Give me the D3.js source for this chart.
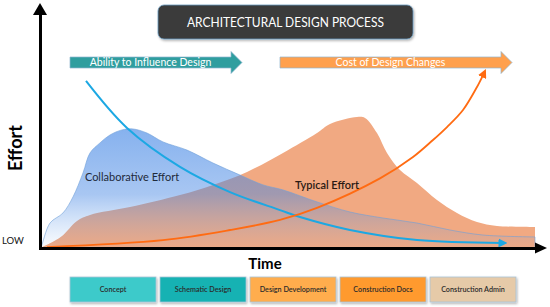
<!DOCTYPE html>
<html>
<head>
<meta charset="utf-8">
<script src="https://cdn.jsdelivr.net/npm/d3@7"></script>
<style>
  body { margin: 0; background: #fff; }
  #graphicContainer { width: 550px; height: 307px; }
  text { font-family: Lato, "Open Sans", sans-serif; }
</style>
</head>
<body>
<div id="graphicContainer"></div>
<script>

// effort curves, time 0-100 vs effort 0-100

var collaborative = [[0, 0], [0.2, 0.4], [2, 10.4], [4.6, 14.6], [6.6, 21.3], [8.6, 31.3], [10, 39.6], [12, 43.8],
	[14, 47.1], [16.4, 49.2], [18.6, 49.6], [21.4, 47.9], [24.6, 44.2], [29.4, 40.8], [34.6, 35.4],
	[40, 30.4], [44.6, 26.3], [48.6, 24.2], [55.4, 19.2], [62, 15], [68.6, 12.5], [75.4, 10.4],
	[82, 7.5], [88.6, 5.4], [99, 4.6]];

var typical = [[0, 0], [2, 2], [4.4, 5], [7.4, 11.3], [10, 13.8], [18, 17.1], [28, 22.1], [34.6, 26.3],
	[41.4, 31.7], [48.6, 39.6], [55.4, 47.9], [58, 51.7], [63.4, 54.6], [65, 54.2], [67.4, 47.9],
	[69.4, 39.6], [72, 32.5], [75.4, 27.1], [79.4, 20], [83.4, 14.6], [87.4, 10.8], [91.4, 9.2], [99, 8.75]];

var influence = [[9.2, 69.6], [17.4, 50], [28, 33.8], [38, 23.3], [48, 15.8], [52, 12.9], [62, 7.5],
	[75.4, 3.3], [92.6, 2.1]];

var cost = [[1.4, 0.4], [24.6, 3.3], [38, 7.5], [48, 11.7], [55.4, 16.7], [68, 29], [74.6, 37.9],
	[78.6, 45], [81.4, 50.4], [84.6, 57.5], [87.4, 67.1], [88.8, 72.9]];

var banners = [
	{label: "Ability to Influence Design", from: 6, to: 40.4, fill: "#2f9e9f"},
	{label: "Cost of Design Changes", from: 48, to: 94.4, fill: "#ffa04d"}
];

var phases = ["Concept", "Schematic Design", "Design Development", "Construction Docs", "Construction Admin"];
var phase_colours = ["#3ccaca", "#13b2b3", "#ffad4d", "#ff9a2e", "#e6caa8"];

function draw_chart() {

		d3.select("#graphicContainer svg").remove();

		var width = 550, height = 307;

		var svg = d3.select("#graphicContainer").append("svg")
			.attr("width", width)
			.attr("height", height);

		var defs = svg.append("defs");

		var grad = defs.append("linearGradient")
			.attr("id", "blueFade")
			.attr("x1", 0).attr("y1", 0).attr("x2", 0).attr("y2", 1);
		grad.append("stop").attr("offset", "0%").attr("stop-color", "rgb(60,130,228)").attr("stop-opacity", 0.62);
		grad.append("stop").attr("offset", "55%").attr("stop-color", "rgb(70,135,228)").attr("stop-opacity", 0.47);
		grad.append("stop").attr("offset", "100%").attr("stop-color", "rgb(120,170,235)").attr("stop-opacity", 0.04);

		var shadow = defs.append("filter").attr("id", "shadow")
			.attr("x", "-10%").attr("y", "-20%").attr("width", "130%").attr("height", "160%");
		shadow.append("feDropShadow").attr("dx", 1).attr("dy", 1.5).attr("stdDeviation", 1)
			.attr("flood-color", "#000").attr("flood-opacity", 0.3);

		function marker(id, colour, size) {
			defs.append("marker")
				.attr("id", id)
				.attr("viewBox", "0 0 10 10")
				.attr("refX", 5).attr("refY", 5)
				.attr("markerUnits", "userSpaceOnUse")
				.attr("markerWidth", size).attr("markerHeight", size)
				.attr("orient", "auto")
				.append("path")
				.attr("d", "M0,0L10,5L0,10Z")
				.attr("fill", colour);
		}
		marker("blueHead", "#1ca8e3", 9);
		marker("orangeHead", "#ff6b12", 9);

		// scales

		var x = d3.scaleLinear()
			.domain([0, 100])
			.range([40, 540]);

		var y = d3.scaleLinear()
			.domain([0, 100])
			.range([248, 8]);

		// title box

		var title = svg.append("g");
		title.append("rect")
			.attr("x", 158).attr("y", 5)
			.attr("width", 255).attr("height", 34)
			.attr("rx", 6)
			.attr("fill", "#3a3a3a")
			.attr("stroke", "#6a9cc0")
			.attr("stroke-width", 0.8)
			.attr("filter", "url(#shadow)");
		title.append("text")
			.attr("x", 285.5).attr("y", 22)
			.attr("dy", "0.36em")
			.attr("text-anchor", "middle")
			.attr("fill", "#fff")
			.attr("font-size", 14)
			.attr("textLength", 197)
			.attr("lengthAdjust", "spacingAndGlyphs")
			.text("ARCHITECTURAL DESIGN PROCESS");

		// banner arrows

		var ban = svg.append("g").selectAll("g")
			.data(banners)
			.enter()
			.append("g");

		ban.append("path")
			.attr("d", d => {
				var x0 = x(d.from), x1 = x(d.to), xh = x1 - 11;
				return `M${x0},57L${xh},57L${xh},51.5L${x1},62.5L${xh},73.5L${xh},68L${x0},68Z`;
			})
			.attr("fill", d => d.fill)
			.attr("stroke", "#8fb4d0")
			.attr("stroke-width", 0.7);

		ban.append("text")
			.attr("x", d => (x(d.from) + x(d.to) - 11) / 2)
			.attr("y", 62.5)
			.attr("dy", "0.35em")
			.attr("text-anchor", "middle")
			.attr("fill", "#fff")
			.attr("font-size", 10.5)
			.text(d => d.label);

		// effort areas

		var area = d3.area()
			.x(d => x(d[0]))
			.y0(y(0))
			.y1(d => y(d[1]))
			.curve(d3.curveCatmullRom);

		svg.append("path")
			.datum(typical)
			.attr("d", area)
			.attr("fill", "#f1a982");

		svg.append("path")
			.datum(collaborative)
			.attr("d", area)
			.attr("fill", "url(#blueFade)")
			.attr("stroke", "#6f9fd8")
			.attr("stroke-width", 0.6);

		// influence and cost curves

		var line = d3.line()
			.x(d => x(d[0]))
			.y(d => y(d[1]))
			.curve(d3.curveCatmullRom);

		svg.append("path")
			.datum(influence)
			.attr("d", line)
			.attr("fill", "none")
			.attr("stroke", "#1ca8e3")
			.attr("stroke-width", 2)
			.attr("marker-end", "url(#blueHead)");

		svg.append("path")
			.datum(cost)
			.attr("d", line)
			.attr("fill", "none")
			.attr("stroke", "#ff6b12")
			.attr("stroke-width", 1.8)
			.attr("marker-end", "url(#orangeHead)");

		// area labels

		svg.append("text")
			.attr("x", 132).attr("y", 177)
			.attr("dy", "0.35em")
			.attr("text-anchor", "middle")
			.attr("fill", "#1e2a3a")
			.attr("font-size", 11)
			.text("Collaborative Effort");

		svg.append("text")
			.attr("x", 327).attr("y", 185)
			.attr("dy", "0.35em")
			.attr("text-anchor", "middle")
			.attr("fill", "#2a1a14")
			.attr("font-size", 11)
			.attr("font-weight", 600)
			.text("Typical Effort");

		// axes, no ticks, just the arrows

		var yAxis = g => g
			.attr("transform", `translate(${x(0)},0)`)
			.call(d3.axisLeft(d3.scaleLinear().range([y(0) + 1.5, 12])).tickValues([]).tickSizeOuter(0))
			.call(g => g.select(".domain").attr("stroke", "#000").attr("stroke-width", 3));

		var xAxis = g => g
			.attr("transform", `translate(0,${y(0)})`)
			.call(d3.axisBottom(d3.scaleLinear().range([x(0) - 1.5, 537])).tickValues([]).tickSizeOuter(0))
			.call(g => g.select(".domain").attr("stroke", "#000").attr("stroke-width", 3));

		svg.append("g").call(yAxis);
		svg.append("g").call(xAxis);

		svg.append("path")
			.attr("d", `M${x(0)},3L${x(0) + 7},15L${x(0) - 7},15Z`)
			.attr("fill", "#000");
		svg.append("path")
			.attr("d", `M547,${y(0)}L535,${y(0) - 5.5}L535,${y(0) + 5.5}Z`)
			.attr("fill", "#000");

		svg.append("text")
			.attr("transform", "translate(16,148) rotate(-90)")
			.attr("dy", "0.35em")
			.attr("text-anchor", "middle")
			.attr("font-size", 18)
			.attr("font-weight", "bold")
			.attr("fill", "#000")
			.text("Effort");

		svg.append("text")
			.attr("x", 13).attr("y", 241)
			.attr("dy", "0.35em")
			.attr("text-anchor", "middle")
			.attr("font-size", 9.5)
			.attr("fill", "#111")
			.text("LOW");

		svg.append("text")
			.attr("x", 265).attr("y", 264)
			.attr("dy", "0.35em")
			.attr("text-anchor", "middle")
			.attr("font-size", 15)
			.attr("font-weight", "bold")
			.attr("fill", "#000")
			.text("Time");

		// phase boxes

		var band = d3.scaleBand()
			.domain(phases)
			.range([70, 516])
			.paddingInner(0.0444);

		var colour = d3.scaleOrdinal()
			.domain(phases)
			.range(phase_colours);

		var box = svg.append("g").selectAll("g")
			.data(phases)
			.enter()
			.append("g")
			.attr("transform", d => `translate(${band(d)},277)`);

		box.append("rect")
			.attr("width", band.bandwidth())
			.attr("height", 25)
			.attr("fill", d => colour(d))
			.attr("stroke", "#a9c3d6")
			.attr("stroke-width", 0.8)
			.attr("filter", "url(#shadow)");

		box.append("text")
			.attr("x", band.bandwidth() / 2)
			.attr("y", 12.5)
			.attr("dy", "0.35em")
			.attr("text-anchor", "middle")
			.attr("font-size", 7.2)
			.attr("font-weight", 600)
			.attr("fill", "#2b2b2b")
			.text(d => d);
}

draw_chart();

</script>
</body>
</html>
